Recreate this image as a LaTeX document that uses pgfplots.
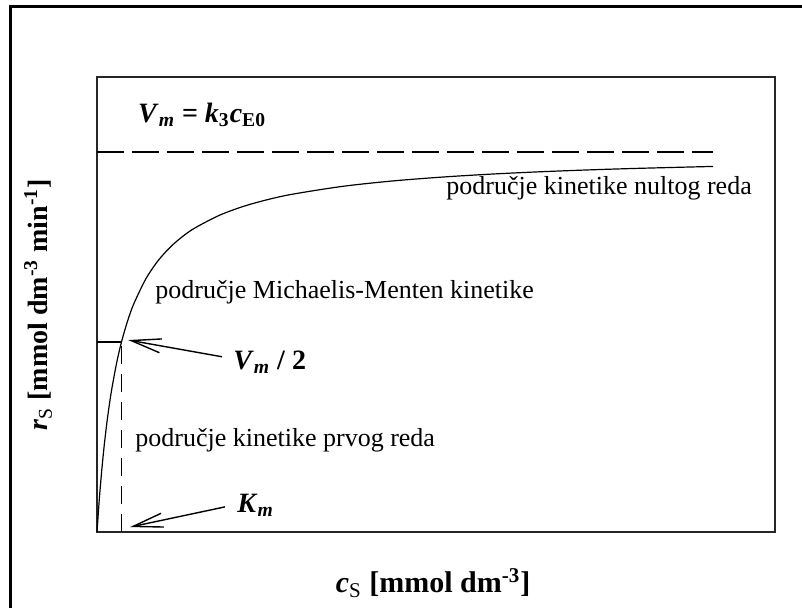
\documentclass[border=0pt]{standalone}
\usepackage{fontspec}
\setmainfont{Liberation Serif}
\usepackage{pgfplots}
\pgfplotsset{compat=1.18}
\usetikzlibrary{arrows.meta}
\begin{document}
\begin{tikzpicture}
\draw[line width=1.5pt] (5pt,-20pt) -- (5pt,300.5pt) -- (430pt,300.5pt);
\begin{axis}[
  at={(48.5pt,38pt)}, anchor=south west, scale only axis,
  width=339pt, height=227.5pt,
  xmin=0, xmax=27.67, ymin=0, ymax=1.197,
  xtick=\empty, ytick=\empty,
  axis line style={line width=0.9pt, black!85},
  clip=false,
  xlabel={\fontsize{15}{18}\selectfont\textbf{\textit{c}\textsubscript{\textmd{S}} [mmol dm\textsuperscript{-3}]}},
  xlabel style={at={(rel axis cs:0.4956,-0.112)}, anchor=center},
  ylabel={\fontsize{14}{17}\selectfont\textbf{\textit{r}\textsubscript{\textmd{S}} [mmol dm\textsuperscript{-3} min\textsuperscript{-1}]}},
  ylabel style={at={(rel axis cs:-0.087,0.499)}, anchor=center},
]
\addplot[black, line width=0.6pt, smooth] coordinates {
(0,0) (0.1,0.0909) (0.2,0.1667) (0.3,0.2308) (0.4,0.2857) (0.5,0.3333)
(0.6,0.375) (0.8,0.4444) (1,0.5) (1.25,0.5556) (1.5,0.6) (2,0.6667)
(2.5,0.7143) (3,0.75) (3.5,0.7778) (4,0.8) (5,0.8333) (6,0.8571)
(7,0.875) (8,0.8889) (10,0.9091) (12,0.9231) (14,0.9333) (16,0.9412)
(18,0.9474) (20,0.9524) (22,0.9565) (25.14,0.9617)
};
\addplot[black, line width=0.75pt, dash pattern=on 13.5pt off 4pt] coordinates {(0,1) (25.14,1)};
\addplot[black, line width=0.75pt] coordinates {(0,0.5) (1,0.5)};
\addplot[black, line width=0.75pt, dash pattern=on 9pt off 5pt] coordinates {(1,0) (1,0.5)};
\node[anchor=center, font=\fontsize{14}{17}\selectfont] at (axis cs:4.29,1.097)
  {\textbf{\textit{V}\textsubscript{\textit{m}} = \textit{k}\textsubscript{3}\textit{c}\textsubscript{E0}}};
\node[anchor=center, font=\fontsize{13}{16}\selectfont] at (axis cs:20.49,0.905) {područje kinetike nultog reda};
\node[anchor=west, inner sep=0pt, font=\fontsize{13}{16}\selectfont] at (axis cs:2.37,0.632) {područje Michaelis-Menten kinetike};
\node[anchor=west, inner sep=0pt, font=\fontsize{14}{17}\selectfont] at (axis cs:5.55,0.447)
  {\textbf{\textit{V}\textsubscript{\textit{m}} / 2}};
\node[anchor=west, inner sep=0pt, font=\fontsize{13}{16}\selectfont] at (axis cs:1.55,0.242) {područje kinetike prvog reda};
\node[anchor=west, inner sep=0pt, font=\fontsize{14}{17}\selectfont] at (axis cs:5.71,0.071)
  {\textbf{\textit{K}\textsubscript{\textit{m}}}};
\draw[-{Straight Barb[length=15pt,width=7pt]}, line width=0.7pt] (axis cs:5.10,0.461) -- (axis cs:1.27,0.505);
\draw[-{Straight Barb[length=15pt,width=7pt]}, line width=0.7pt] (axis cs:5.22,0.066) -- (axis cs:1.35,0.013);
\end{axis}
\pgfresetboundingbox
\useasboundingbox (0,0) rectangle (401pt,304pt);
\end{tikzpicture}
\end{document}
